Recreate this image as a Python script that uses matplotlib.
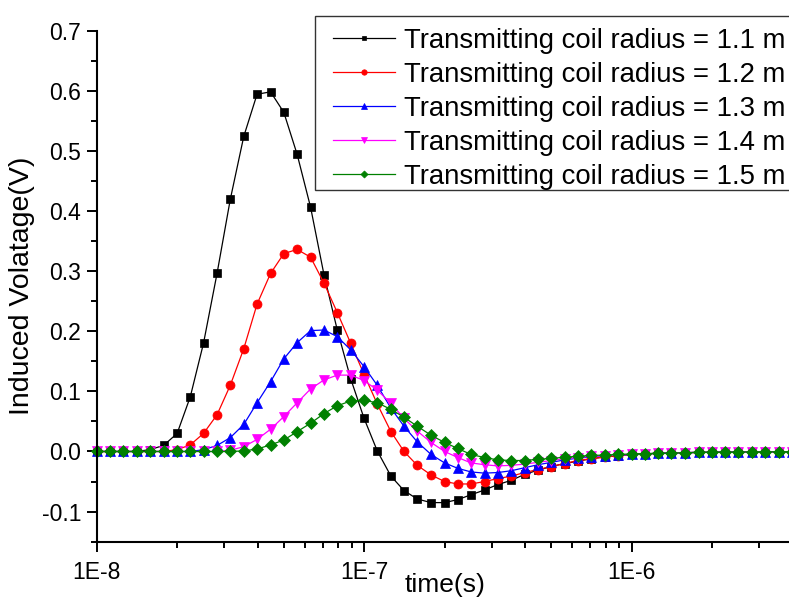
import matplotlib
matplotlib.use("Agg")
import matplotlib.pyplot as plt
from matplotlib.patches import Rectangle
from matplotlib.ticker import FixedLocator, FixedFormatter, MultipleLocator, LogLocator, NullFormatter

plt.rcParams['font.family'] = ['Liberation Sans', 'DejaVu Sans']

time_s = [1.00e-8, 1.12e-8, 1.26e-8, 1.41e-8, 1.58e-8, 1.78e-8, 2.00e-8, 2.24e-8, 2.51e-8, 2.82e-8,
          3.16e-8, 3.55e-8, 3.98e-8, 4.47e-8, 5.01e-8, 5.62e-8, 6.31e-8, 7.08e-8, 7.94e-8, 8.91e-8,
          1.00e-7, 1.12e-7, 1.26e-7, 1.41e-7, 1.58e-7, 1.78e-7, 2.00e-7, 2.24e-7, 2.51e-7, 2.82e-7,
          3.16e-7, 3.55e-7, 3.98e-7, 4.47e-7, 5.01e-7, 5.62e-7, 6.31e-7, 7.08e-7, 7.94e-7, 8.91e-7,
          1.00e-6, 1.12e-6, 1.26e-6, 1.41e-6, 1.58e-6, 1.78e-6, 2.00e-6, 2.24e-6, 2.51e-6, 2.82e-6,
          3.16e-6, 3.55e-6, 3.98e-6]

v_r11 = [0, 0, 0, 0, 0.003, 0.010, 0.030, 0.091, 0.180, 0.296,
         0.419, 0.524, 0.594, 0.598, 0.564, 0.494, 0.406, 0.294, 0.202, 0.121,
         0.055, 0.001, -0.041, -0.065, -0.079, -0.085, -0.085, -0.080, -0.072, -0.064,
         -0.055, -0.048, -0.038, -0.031, -0.025, -0.020, -0.016, -0.012, -0.009, -0.007,
         -0.005, -0.004, -0.003, -0.0025, -0.002, -0.0015, -0.0012, -0.001, -0.0008, -0.0006,
         -0.0005, -0.0004, -0.0003]

v_r12 = [0, 0, 0, 0, 0, 0, 0.003, 0.011, 0.030, 0.061,
         0.110, 0.171, 0.245, 0.296, 0.329, 0.336, 0.323, 0.280, 0.231, 0.180,
         0.128, 0.079, 0.033, 0.000, -0.023, -0.039, -0.050, -0.054, -0.054, -0.050,
         -0.045, -0.041, -0.035, -0.030, -0.025, -0.020, -0.015, -0.012, -0.009, -0.007,
         -0.005, -0.004, -0.003, -0.0025, -0.002, -0.0015, -0.0012, -0.001, -0.0008, -0.0006,
         -0.0005, -0.0004, -0.0003]

v_r13 = [0, 0, 0, 0, 0, 0, 0, 0, 0.003, 0.010,
         0.023, 0.045, 0.081, 0.116, 0.154, 0.181, 0.201, 0.202, 0.191, 0.169,
         0.141, 0.110, 0.072, 0.042, 0.016, -0.005, -0.019, -0.028, -0.034, -0.036,
         -0.035, -0.032, -0.027, -0.022, -0.018, -0.014, -0.011, -0.009, -0.007, -0.006,
         -0.005, -0.004, -0.003, -0.0025, -0.002, -0.0015, -0.0012, -0.001, -0.0008, -0.0006,
         -0.0005, -0.0004, -0.0003]

v_r14 = [0, 0, 0, 0, 0, 0, 0, 0, 0, 0,
         0.002, 0.008, 0.020, 0.037, 0.058, 0.081, 0.104, 0.119, 0.127, 0.127,
         0.118, 0.102, 0.080, 0.055, 0.034, 0.015, 0.000, -0.010, -0.019, -0.022,
         -0.024, -0.023, -0.021, -0.018, -0.015, -0.012, -0.010, -0.008, -0.007, -0.006,
         -0.005, -0.004, -0.003, -0.0025, -0.002, -0.0015, -0.0012, -0.001, -0.0008, -0.0006,
         -0.0005, -0.0004, -0.0003]

v_r15 = [0, 0, 0, 0, 0, 0, 0, 0, 0, 0,
         0, 0.001, 0.004, 0.011, 0.019, 0.033, 0.047, 0.063, 0.076, 0.084,
         0.085, 0.081, 0.070, 0.057, 0.042, 0.027, 0.015, 0.005, -0.005, -0.010,
         -0.014, -0.015, -0.015, -0.013, -0.0115, -0.0095, -0.008, -0.0065, -0.006, -0.005,
         -0.004, -0.0035, -0.003, -0.0025, -0.002, -0.0015, -0.0012, -0.001, -0.0008, -0.0006,
         -0.0005, -0.0004, -0.0003]

labels = ["Transmitting coil radius = 1.1 m", "Transmitting coil radius = 1.2 m",
          "Transmitting coil radius = 1.3 m", "Transmitting coil radius = 1.4 m",
          "Transmitting coil radius = 1.5 m"]
series = [v_r11, v_r12, v_r13, v_r14, v_r15]
colors = ["#000000", "#FF0000", "#0000FF", "#FF00FF", "#008000"]
markers = ["s", "o", "^", "v", "D"]
msizes = [5.5, 6.5, 7.0, 7.0, 6.0]

xtick_vals = [1e-8, 1e-7, 1e-6]
xtick_labels = ["1E-8", "1E-7", "1E-6"]

W, H = 789, 597
fig = plt.figure(figsize=(W / 100, H / 100), dpi=100)
ax = fig.add_axes([96.6 / W, 1 - 541.7 / H, 1.0 - 96.6 / W, (541.7 - 30.5) / H])

for y, c, m, ms, lab in zip(series, colors, markers, msizes, labels):
    ax.plot(time_s, y, color=c, marker=m, markersize=ms, markeredgecolor=c,
            markeredgewidth=0.5, linewidth=0.9, label=lab, clip_on=False)

ax.set_xscale('log')
ax.set_xlim(1e-8, 3.877e-6)
ax.set_ylim(-0.15, 0.7)

ax.xaxis.set_major_locator(FixedLocator(xtick_vals))
ax.xaxis.set_major_formatter(FixedFormatter(xtick_labels))
ax.xaxis.set_minor_locator(LogLocator(base=10, subs=[2, 3, 4, 5, 6, 7, 8, 9], numticks=20))
ax.xaxis.set_minor_formatter(NullFormatter())

ax.yaxis.set_major_locator(MultipleLocator(0.1))
ax.yaxis.set_minor_locator(MultipleLocator(0.05))
ax.yaxis.set_major_formatter(plt.FuncFormatter(lambda v, p: f"{v:.1f}" if abs(v) > 1e-9 else "0.0"))

for s in ['top', 'right']:
    ax.spines[s].set_visible(False)
for s in ['left', 'bottom']:
    ax.spines[s].set_linewidth(1.5)

ax.tick_params(axis='both', which='major', direction='out', length=7, width=1.4, labelsize=16.5)
ax.tick_params(axis='both', which='minor', direction='out', length=4, width=1.4)
ax.tick_params(axis='y', which='major', pad=4)
ax.tick_params(axis='x', which='major', pad=7)

ax.set_xlabel("time(s)", fontsize=19)
ax.xaxis.set_label_coords(0.503, -0.061)
ax.xaxis.label.set_va('top')
ax.set_ylabel("Induced Volatage(V)", fontsize=20.5)
ax.yaxis.set_label_coords(-0.108, 0.5)
ax.yaxis.label.set_va('center')

fs = 19.8
fs_px = fs * 100 / 72
leg = ax.legend(loc='upper left', bbox_to_anchor=(333 / W, 1 - 28 / H),
                bbox_transform=fig.transFigure, borderaxespad=0, fontsize=fs,
                frameon=False, handlelength=62 / fs_px, handletextpad=9 / fs_px,
                borderpad=0, labelspacing=0.29, markerscale=0.6)
leg.set_zorder(6)

# legend frame (extends past the right edge, as in the reference)
frame = Rectangle((315 / W, 1 - 190 / H), (820 - 315) / W, (190 - 16) / H,
                  transform=fig.transFigure, fill=True, facecolor='white',
                  edgecolor='#333333', linewidth=1.0, zorder=5, clip_on=False)
ax.add_patch(frame)

fig.savefig("out.png", dpi=100)
